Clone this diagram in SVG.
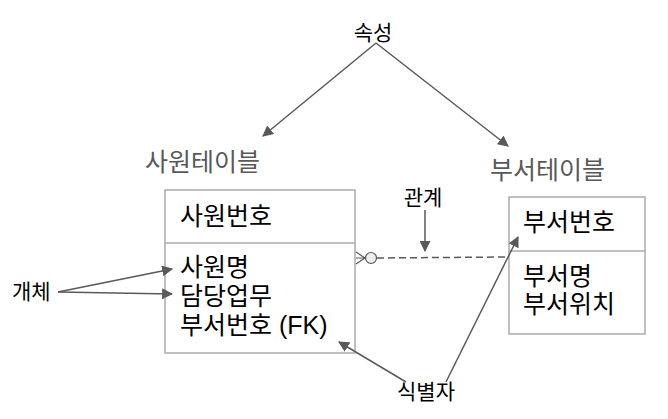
<svg xmlns="http://www.w3.org/2000/svg" width="668" height="419" viewBox="0 0 668 419">
<style>
text{font-family:"Liberation Sans","Noto Sans CJK KR",sans-serif;fill:#000}
.lbl{font-size:21px}
.title{font-size:25px;fill:#595959}
.cell{font-size:25px}
.box{fill:#fff;stroke:#ababab;stroke-width:1.5}
.arr{stroke:#595959;stroke-width:1.5;fill:none;marker-end:url(#ah)}
</style>
<defs>
<marker id="ah" viewBox="0 0 10 10" refX="9" refY="5" markerWidth="11" markerHeight="11" markerUnits="userSpaceOnUse" orient="auto">
<path d="M0,0 L10,5 L0,10 z" fill="#595959"/>
</marker>
</defs>
<g id="emp">
<text class="title" x="145" y="171">사원테이블</text>
<rect class="box" x="165" y="190" width="190" height="163"/>
<line x1="165" y1="243" x2="355" y2="243" stroke="#ababab" stroke-width="1.5"/>
<text class="cell" x="180" y="225">사원번호</text>
<text class="cell" x="180" y="276">사원명</text>
<text class="cell" x="180" y="305">담당업무</text>
<text class="cell" x="180" y="334">부서번호 (FK)</text>
</g>
<g id="dept">
<text class="title" x="490" y="179">부서테이블</text>
<rect class="box" x="509" y="197" width="136" height="137"/>
<line x1="509" y1="251" x2="645" y2="251" stroke="#ababab" stroke-width="1.5"/>
<text class="cell" x="523" y="231">부서번호</text>
<text class="cell" x="523" y="285">부서명</text>
<text class="cell" x="523" y="313">부서위치</text>
</g>
<g id="lbl-attr"><text class="lbl" x="373" y="40" text-anchor="middle">속성</text></g>
<g id="lbl-rel"><text class="lbl" x="423" y="205" text-anchor="middle">관계</text></g>
<g id="lbl-ent"><text class="lbl" x="12" y="299">개체</text></g>
<g id="lbl-id"><text class="lbl" x="426" y="399" text-anchor="middle">식별자</text></g>
<g id="connectors">
<line class="arr" x1="376" y1="43" x2="263" y2="136"/>
<line class="arr" x1="376" y1="43" x2="508" y2="146"/>
<line class="arr" x1="425" y1="210" x2="425" y2="251"/>
<line class="arr" x1="58" y1="292" x2="172" y2="269"/>
<line class="arr" x1="58" y1="292" x2="172" y2="294"/>
<line class="arr" x1="406" y1="382" x2="339" y2="342"/>
<line class="arr" x1="446" y1="382" x2="518" y2="237"/>
<line x1="377" y1="258" x2="509" y2="257" stroke="#595959" stroke-width="1.5" stroke-dasharray="7,4"/>
<path d="M356,252 L365,258 L356,264 M356,258 L365,258" stroke="#595959" stroke-width="1.2" fill="none"/>
<circle cx="371" cy="258" r="5.5" fill="#eee" stroke="#595959" stroke-width="1.2"/>
</g>
</svg>
